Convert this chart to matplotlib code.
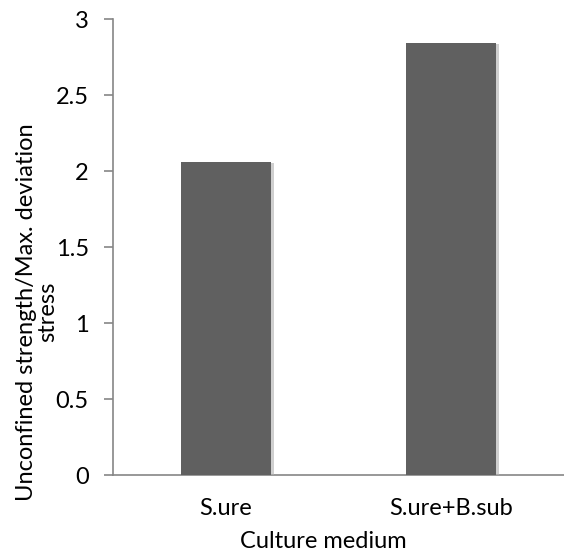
import matplotlib
matplotlib.use('Agg')
import matplotlib.pyplot as plt
import matplotlib.patheffects as pe

# Data
media = ['S.ure', 'S.ure+B.sub']
strength = [2.06, 2.845]
yticks = [0, 0.5, 1, 1.5, 2, 2.5, 3]

plt.rcParams['font.family'] = ['Lato', 'DejaVu Sans']
fs = 17

fig = plt.figure(figsize=(5.64, 5.54), dpi=100)
ax = fig.add_axes([0.2004, 0.1417, 0.7996, 0.824])

bars = ax.bar(range(len(media)), strength, width=0.4, color='#606060', zorder=3)
for b in bars:
    b.set_path_effects([pe.SimplePatchShadow(offset=(2, -1), shadow_rgbFace='#b0b0b0', alpha=0.6),
                        pe.Normal()])

ax.set_xlim(-0.5, 1.5)
ax.set_ylim(0, 3)
ax.set_yticks(yticks)
ax.set_yticklabels([f'{t:g}' for t in yticks], fontsize=fs)
ax.set_xticks(range(len(media)))
ax.set_xticklabels(media, fontsize=fs)

for s in ['top', 'right']:
    ax.spines[s].set_visible(False)
for s in ['left', 'bottom']:
    ax.spines[s].set_color('#868686')
    ax.spines[s].set_linewidth(1.2)

ax.tick_params(axis='y', length=6.5, color='#868686', width=1.2, pad=11)
ax.tick_params(axis='x', length=0, pad=16)

# axis titles placed in figure coords like the Excel original
fig.text(323 / 564, 1 - 541 / 554, 'Culture medium', fontsize=fs, ha='center', va='center')
fig.text(37 / 564, 1 - 312 / 554, 'Unconfined strength/Max. deviation\nstress',
         fontsize=fs, ha='center', va='center', rotation=90, multialignment='center',
         linespacing=1.0)

fig.savefig('out.png', dpi=100)
